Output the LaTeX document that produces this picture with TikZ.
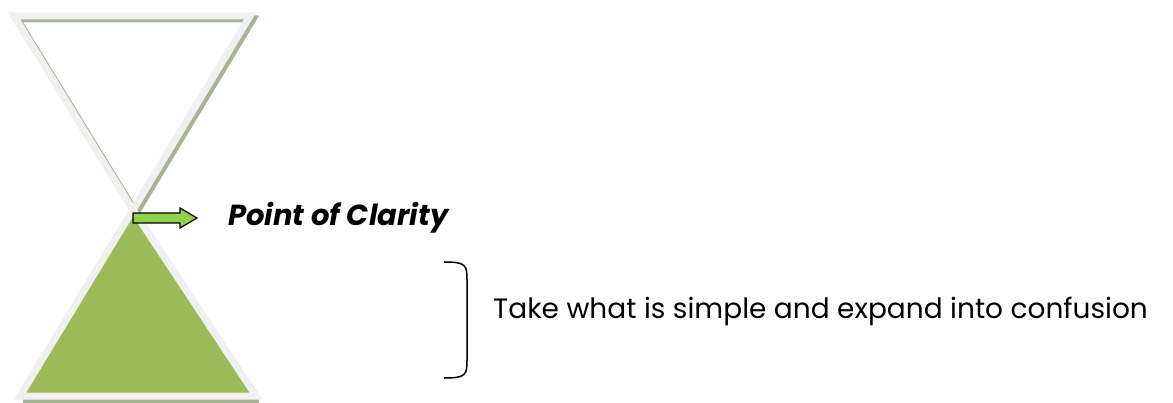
\documentclass[tikz,border=0pt]{standalone}
\usepackage{fontspec}
\setmainfont{Poppins}
\definecolor{rimgray}{HTML}{F0F0F0}
\definecolor{shadowgreen}{HTML}{A7B394}
\definecolor{sandgreen}{HTML}{9BBB59}
\definecolor{arrowgreen}{HTML}{92D050}
\tikzset{
  rim/.style={draw=rimgray, line width=7pt, line join=miter},
  shadowline/.style={draw=shadowgreen, line width=7pt, line join=miter},
  blockarrow/.style={draw=black, fill=arrowgreen, line width=1.2pt, line join=miter},
}
\begin{document}
\begin{tikzpicture}[x=1pt,y=-1pt]
\useasboundingbox (0,0) rectangle (1173,403);
% top triangle
\coordinate (tl) at (14,16);
\coordinate (tr) at (250,16);
\coordinate (mid) at (133,210);
\coordinate (bl) at (20,396);
\coordinate (br) at (256,396);
\draw[shadowline] ([shift={(3,3)}]tl) -- ([shift={(3,3)}]tr) -- ([shift={(3,3)}]mid) -- cycle;
\draw[rim] (tl) -- (tr) -- (mid) -- cycle;
% bottom triangle
\draw[shadowline] ([shift={(3,3)}]bl) -- ([shift={(3,3)}]br);
\draw[rim, fill=sandgreen] (mid) -- (br) -- (bl) -- cycle;
% arrow
\coordinate (a0) at (133,218);
\draw[blockarrow] ([shift={(0,-5)}]a0) -- ++(47,0) -- ++(0,-5) -- ++(17,10) -- ++(-17,10) -- ++(0,-5) -- ++(-47,0) -- cycle;
\node[anchor=base west, font=\fontsize{29}{34}\selectfont\bfseries\itshape, inner sep=0pt] (poc) at (228,226) {Point of Clarity};
% bracket
\coordinate (b1) at (444,262);
\coordinate (b2) at (444,378);
\draw[line width=1.5pt] (b1) .. controls (466,262) and (467,265) .. (467,280) -- (467,360) .. controls (467,375) and (466,378) .. (b2);
\node[anchor=west, font=\fontsize{28}{32}\selectfont, inner sep=0pt] (txt) at (493,311) {Take what is simple and expand into confusion};
\end{tikzpicture}
\end{document}
